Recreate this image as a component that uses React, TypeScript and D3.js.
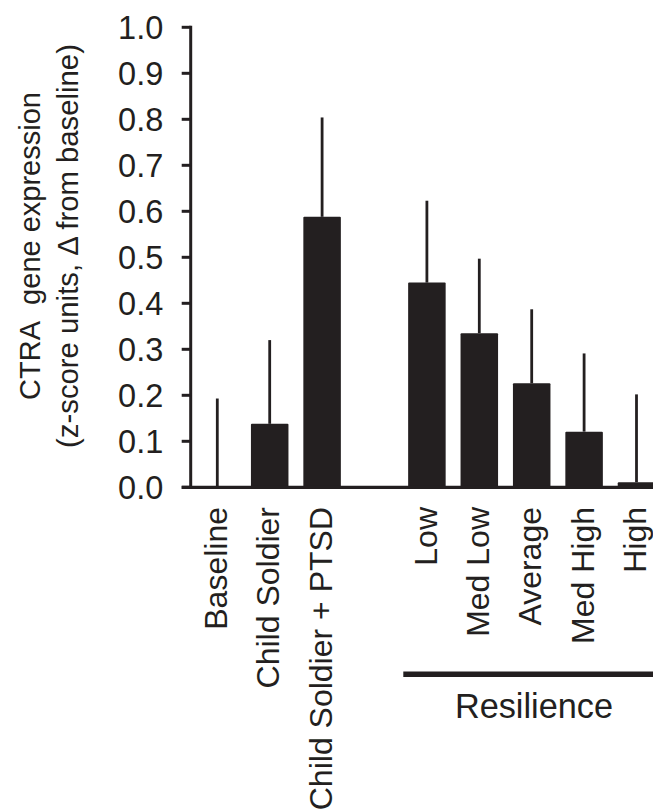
import React from "react";
import * as d3 from "d3";

const categories = ["Baseline", "Child Soldier", "Child Soldier + PTSD", "", "Low", "Med Low", "Average", "Med High", "High"];
const means = [0, 0.138, 0.588, NaN, 0.445, 0.335, 0.226, 0.121, 0.011];
const errorTops = [0.193, 0.32, 0.804, NaN, 0.623, 0.497, 0.387, 0.291, 0.202];
const yTicks = [0, 0.1, 0.2, 0.3, 0.4, 0.5, 0.6, 0.7, 0.8, 0.9, 1.0];
const groupLabel = "Resilience";
const yTitle1 = "CTRA\u00A0 gene expression";
const yTitle2 = "(z-score units, \u0394 from baseline)";

const W = 653;
const H = 811;
const FONT = "Liberation Sans, Arial, Helvetica, sans-serif";
const INK = "#231f20";

export default function App() {
  const y = d3.scaleLinear().domain([0, 1]).range([487.3, 27.3]);
  const step = 52.4;
  const x0 = 217.3;
  const x = d3
    .scaleBand<string>()
    .domain(categories.map((c, i) => String(i)))
    .range([x0 - step / 2, x0 - step / 2 + step * categories.length])
    .paddingInner(0.284)
    .paddingOuter(0.142);
  const bw = x.bandwidth();
  const cx = (i: number) => (x(String(i)) as number) + bw / 2;
  const axisX = 190.7;
  const tickFs = 32.5;
  const labelFs = 32;

  return (
    <svg width={W} height={H} style={{ position: "absolute", left: 0, top: 0 }} fontFamily={FONT}>
      <rect width={W} height={H} fill="#fff" />
      {/* error bars */}
      {categories.map((c, i) =>
        isNaN(means[i]) ? null : (
          <line key={"e" + i} x1={cx(i)} x2={cx(i)} y1={y(means[i])} y2={y(errorTops[i])} stroke={INK} strokeWidth={2.8} />
        )
      )}
      {/* bars */}
      {categories.map((c, i) =>
        isNaN(means[i]) ? null : (
          <rect
            key={"b" + i}
            x={x(String(i))}
            y={y(means[i])}
            width={bw}
            height={Math.max(0, y(0) - y(means[i]))}
            fill={INK}
            rx={1}
          />
        )
      )}
      {/* y axis */}
      <line x1={axisX} x2={axisX} y1={y(1) - 1.5} y2={y(0) + 1.5} stroke={INK} strokeWidth={3} />
      {yTicks.map((t) => (
        <g key={t}>
          <line x1={axisX - 9} x2={axisX} y1={y(t)} y2={y(t)} stroke={INK} strokeWidth={3} />
          <text x={163.3} y={y(t)} dy="0.36em" textAnchor="end" fontSize={tickFs} fill={INK}>
            {t.toFixed(1)}
          </text>
        </g>
      ))}
      {/* x axis */}
      <line x1={axisX - 9} x2={W} y1={y(0)} y2={y(0)} stroke={INK} strokeWidth={3.3} />
      {/* x labels */}
      {categories.map((c, i) =>
        c === "" ? null : (
          <text
            key={"l" + i}
            transform={`translate(${cx(i)},507) rotate(-90)`}
            dy="0.3em"
            textAnchor="end"
            fontSize={labelFs}
            fill={INK}
          >
            {c}
          </text>
        )
      )}
      {/* group bracket */}
      <line x1={403.3} x2={W} y1={674.3} y2={674.3} stroke={INK} strokeWidth={5.5} />
      <text x={534} y={718.3} textAnchor="middle" fontSize={34.3} fill={INK}>
        {groupLabel}
      </text>
      {/* y title */}
      <text transform="translate(40,246) rotate(-90)" textAnchor="middle" fontSize={29} fill={INK}>
        {yTitle1}
      </text>
      <text transform="translate(78,246) rotate(-90)" textAnchor="middle" fontSize={29.3} fill={INK}>
        {yTitle2}
      </text>
    </svg>
  );
}
